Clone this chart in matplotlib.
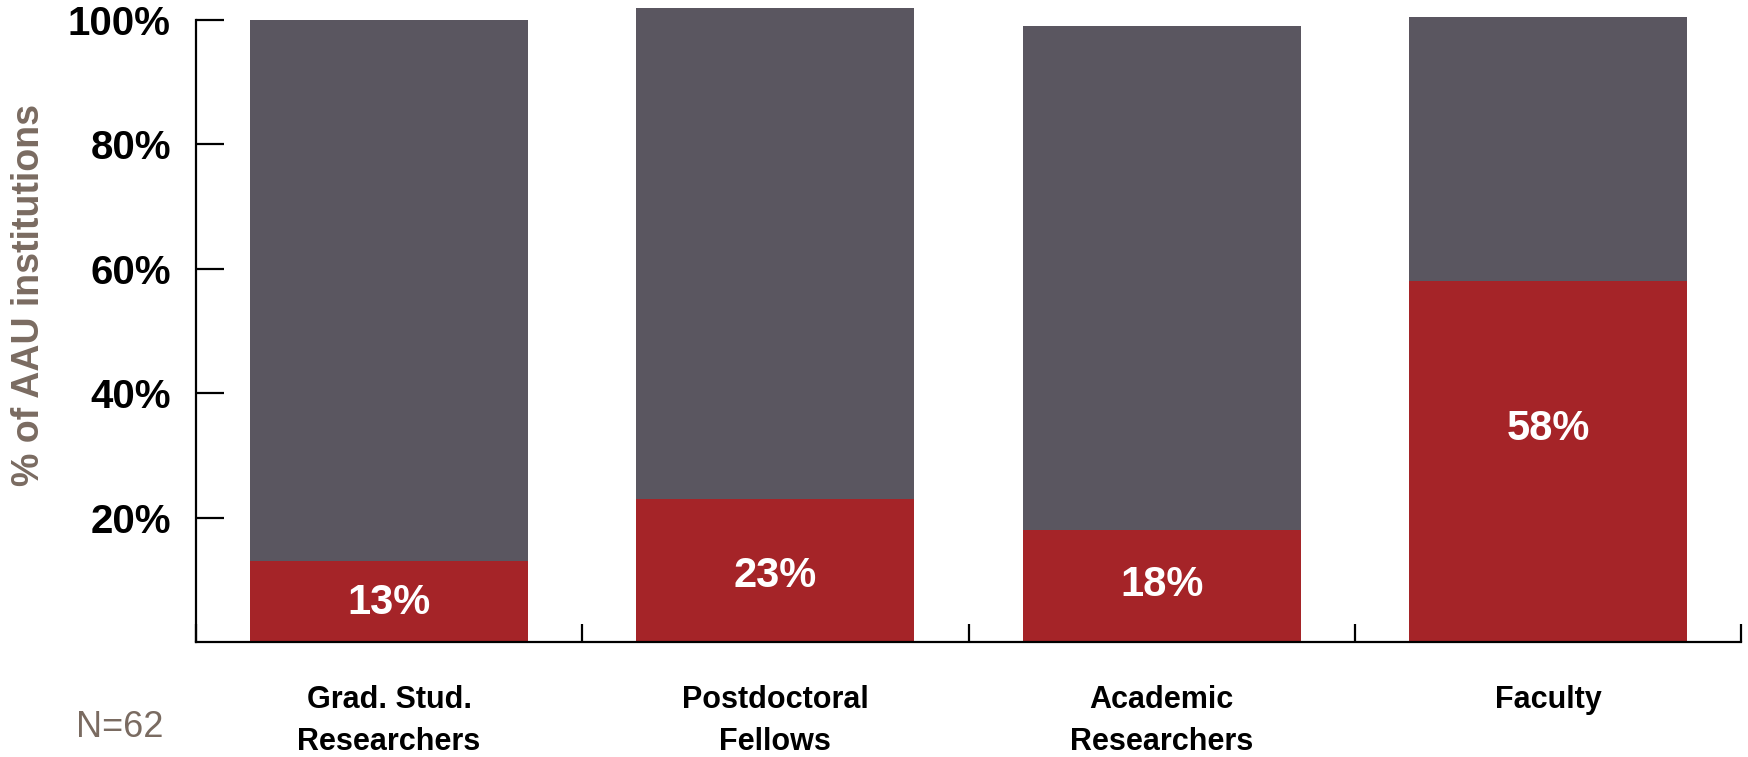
import numpy as np
import matplotlib
matplotlib.use('Agg')
from matplotlib import pyplot as plt

# data
categories = ['Grad. Stud.\nResearchers', 'Postdoctoral\nFellows', 'Academic\nResearchers', 'Faculty']
red_pct = [13, 23, 18, 58]
grey_pct = [87, 79, 81, 42.5]
red_labels = ['13%', '23%', '18%', '58%']
yticks = [20, 40, 60, 80, 100]
ytick_labels = ['20%', '40%', '60%', '80%', '100%']

RED = '#a52428'
GREY = '#5a5660'
BROWN = '#7a6b61'

font = ['Liberation Sans', 'DejaVu Sans']

fig = plt.figure(figsize=(17.48, 7.57), dpi=100)
ax = fig.add_axes([0.1121, 0.1519, 0.884, 0.8464])

x = np.arange(len(categories))
ax.bar(x, red_pct, width=0.72, color=RED, linewidth=0)
ax.bar(x, grey_pct, width=0.72, bottom=red_pct, color=GREY, linewidth=0)

# value labels inside red part
label_y = [6.2, 10.6, 9.1, 34.3]
for xi, yi, t in zip(x, label_y, red_labels):
    ax.text(xi, yi, t, ha='center', va='center', color='white',
            fontsize=30, fontweight='bold', family=font)

ax.set_xlim(-0.5, 3.5)
ax.set_ylim(0, 103)

for s in ['top', 'right']:
    ax.spines[s].set_visible(False)
ax.spines['left'].set_bounds(0, 100)
ax.spines['left'].set_linewidth(1.6)
ax.spines['bottom'].set_linewidth(1.6)

ax.set_yticks(yticks)
ax.set_yticklabels(ytick_labels, fontsize=29, fontweight='bold', family=font)
ax.tick_params(axis='y', direction='in', length=20, width=1.6, pad=18)

# boundary ticks as major, labels on minor ticks at the centres
ax.set_xticks(np.arange(-0.5, 4, 1))
ax.set_xticklabels([])
ax.tick_params(axis='x', which='major', direction='in', length=13, width=1.6)
ax.set_xticks(x, minor=True)
ax.set_xticklabels(categories, minor=True, fontsize=22, fontweight='bold',
                   family=font, linespacing=1.5)
ax.tick_params(axis='x', which='minor', length=0, pad=31)

fig.text(0.0166, 0.610, '% of AAU institutions', rotation=90, ha='center', va='center',
         color=BROWN, fontsize=27, fontweight='bold', family=font)
fig.text(0.0435, 0.0396, 'N=62', ha='left', va='center', color=BROWN,
         fontsize=26, family=font)

plt.savefig('out.png', dpi=100)
